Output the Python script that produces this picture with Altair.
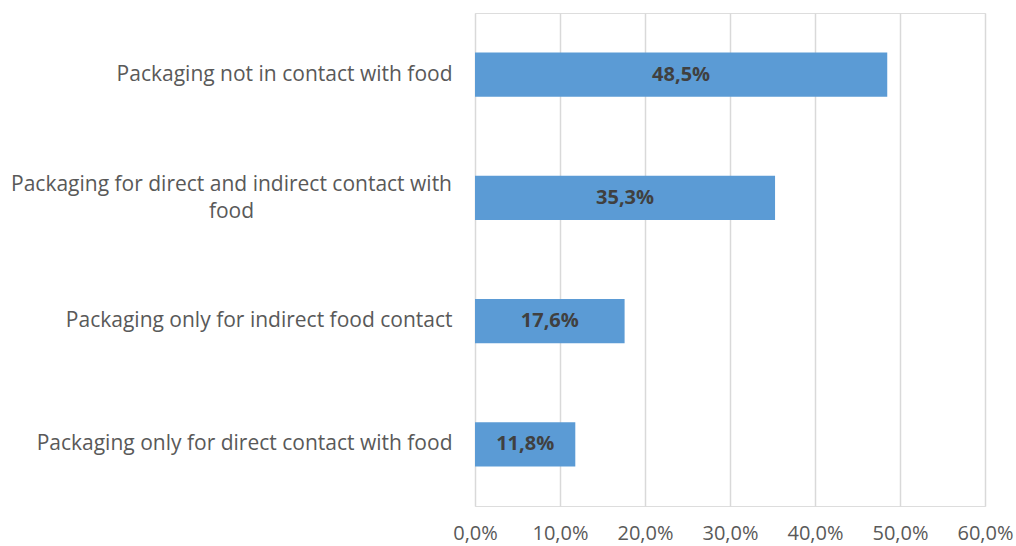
import altair as alt
import pandas as pd

categories = [
    "Packaging not in contact with food",
    "Packaging for direct and indirect contact with food",
    "Packaging only for indirect food contact",
    "Packaging only for direct contact with food",
]
values = [0.485, 0.353, 0.176, 0.118]
bar_labels = ["48,5%", "35,3%", "17,6%", "11,8%"]
x_ticks = [0.0, 0.1, 0.2, 0.3, 0.4, 0.5, 0.6]

df = pd.DataFrame({"cat": categories, "val": values, "lab": bar_labels})

FONT = "Open Sans"
wrapped = categories[1]

y_enc = alt.Y(
    "cat:N",
    sort=categories,
    title=None,
    scale=alt.Scale(paddingInner=0.643, paddingOuter=0.3215),
    axis=alt.Axis(
        domain=False,
        ticks=False,
        grid=False,
        labelFont=FONT,
        labelFontSize=21,
        labelColor="#595959",
        labelLineHeight=27,
        labelLimit=600,
        labelOverlap=False,
        labelAlign=alt.expr(f"datum.value == '{wrapped}' ? 'center' : 'right'"),
        labelPadding=alt.expr(f"datum.value == '{wrapped}' ? 244 : 23"),
        labelOffset=alt.expr(f"datum.value == '{wrapped}' ? -13 : 0"),
        labelExpr=f"datum.value == '{wrapped}' ? ['Packaging for direct and indirect contact with', 'food'] : datum.label",
    ),
)

x_enc = alt.X(
    "val:Q",
    title=None,
    scale=alt.Scale(domain=[0, 0.6], nice=False),
    axis=alt.Axis(
        values=x_ticks,
        domain=False,
        ticks=False,
        grid=True,
        gridColor="#D9D9D9",
        gridWidth=1.5,
        labelFont=FONT,
        labelFontSize=20,
        labelColor="#595959",
        labelPadding=17,
        labelOverlap=False,
        labelFlush=False,
        labelExpr="replace(format(datum.value, '.1%'), '.', ',')",
    ),
)

bars = alt.Chart(df).mark_bar(color="#5B9BD5").encode(x=x_enc, y=y_enc)

text = alt.Chart(df).mark_text(
    font=FONT, fontSize=20, fontWeight="bold", color="#404040", align="center", baseline="middle"
).encode(
    x=alt.X("mid:Q", scale=alt.Scale(domain=[0, 0.6], nice=False)),
    y=alt.Y("cat:N", sort=categories),
    text="lab:N",
).transform_calculate(mid="datum.val / 2")

chart = (
    alt.layer(bars, text)
    .properties(
        width=510,
        height=493,
        autosize=alt.AutoSizeParams(type="none"),
        padding={"left": 475, "top": 13, "right": 31, "bottom": 40},
    )
    .configure_view(strokeWidth=0, stroke="transparent")
    .configure(background="white")
)

chart.save("out.html", embed_options={"renderer": "svg", "actions": False})
